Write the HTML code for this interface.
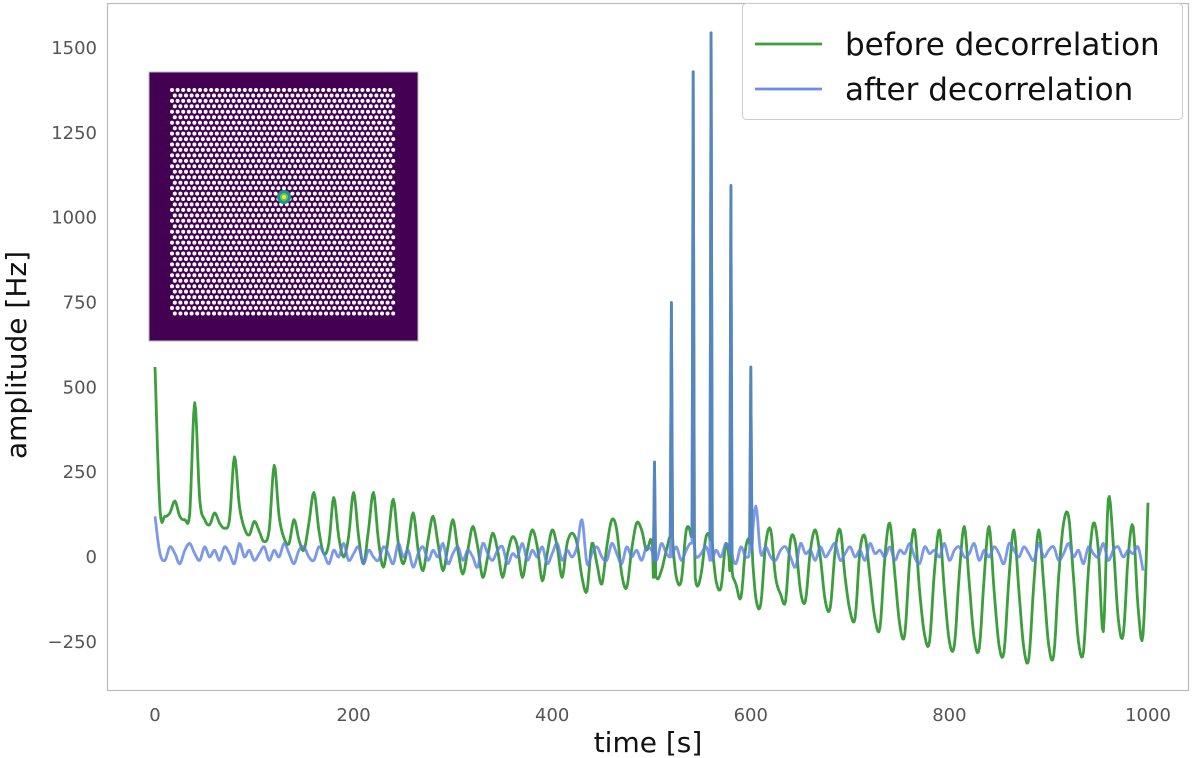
<!DOCTYPE html>
<html><head><meta charset="utf-8"><style>
body{margin:0;background:#fff;}
svg{display:block;font-family:"DejaVu Sans","Liberation Sans",sans-serif;}
</style></head><body>
<svg id="chart" width="1200" height="758"></svg>
<script>
const greenValues=[560,140,120,130,165,120,110,130,455,170,110,95,130,100,85,110,295,150,85,65,105,75,45,80,270,120,55,40,110,50,20,100,190,80,10,40,175,60,0,60,190,60,-20,80,190,50,-30,60,170,40,-20,40,130,20,-40,50,120,40,-40,30,110,20,-50,20,90,30,-60,0,70,20,-60,10,60,30,-60,20,80,30,-70,10,80,30,-60,40,70,40,-60,-100,40,-20,-80,30,110,80,-50,-90,20,100,80,20,50,-60,-40,20,60,-60,-70,80,60,-80,-50,60,50,-70,-90,40,-40,-80,-120,30,40,-120,-140,40,80,-60,-110,-130,50,40,-100,-130,20,80,0,-130,-150,20,80,-60,-160,-180,20,60,-60,-180,-210,0,100,-50,-200,-230,-10,80,-100,-230,-250,-40,80,-100,-250,-260,-50,90,-80,-240,-270,-60,90,-100,-260,-280,-60,80,-100,-270,-300,-80,80,-80,-260,-290,-60,100,120,-60,-250,-280,-40,100,20,-220,170,40,-180,-230,0,90,-150,-230,160];
const blueValues=[120,10,-10,30,10,-20,20,40,10,-10,30,0,20,-10,30,10,-20,40,0,20,-10,10,30,-10,20,0,40,10,-20,20,30,0,-10,30,10,-20,20,0,40,-10,10,30,-20,20,0,-10,30,10,-20,40,0,20,-30,10,30,-10,20,0,40,-20,10,30,-10,20,0,-30,40,10,-10,20,30,-20,10,0,40,-10,20,0,30,-20,10,40,-10,20,0,30,110,-20,10,30,0,-10,40,10,-20,30,0,20,-10,30,20,-10,40,10,0,30,-10,20,40,0,10,30,-10,20,0,40,10,-20,30,0,20,150,10,30,0,-10,20,30,0,-30,40,10,20,-10,30,0,20,40,-10,10,30,0,20,-10,40,10,20,0,30,-10,20,10,40,0,-20,30,10,20,0,40,-10,20,30,0,10,40,-10,20,0,30,10,-20,40,20,0,30,10,-10,40,0,20,30,-10,10,40,0,20,-20,30,10,0,40,-10,20,30,0,20,10,30,-40];
const spikeTimes=[503,520,542,560,580,600];
const spikeHeights=[280,750,1430,1545,1095,560];
const xTicks=[0,200,400,600,800,1000];
const yTicks=[-250,0,250,500,750,1000,1250,1500];
const NS='http://www.w3.org/2000/svg';
const svg=document.getElementById('chart');
const X=t=>155+t*0.993;
const Y=v=>557-v*0.3393;
function mk(tag,attrs,parent){const e=document.createElementNS(NS,tag);for(const k in attrs)e.setAttribute(k,attrs[k]);(parent||svg).appendChild(e);return e;}
const frame=mk('rect',{x:107.5,y:3.5,width:1081,height:687,fill:'none',stroke:'#bbbbbb','stroke-width':1.2});


xTicks.forEach(t=>{const e=mk('text',{x:X(t),y:721,'text-anchor':'middle','font-size':18,fill:'#555'});e.textContent=t;

});
yTicks.forEach(v=>{const e=mk('text',{x:97,y:Y(v)+6,'text-anchor':'end','font-size':18,fill:'#555'});e.textContent=v<0?'\u2212'+Math.abs(v):v;

});
const xl=mk('text',{x:648,y:752,'text-anchor':'middle','font-size':28,fill:'#111'});xl.textContent='time [s]';


const yl=mk('text',{x:0,y:0,'text-anchor':'middle','font-size':28,fill:'#111',transform:'translate(26,355) rotate(-90)'});yl.textContent='amplitude [Hz]';


// smooth segments between grid samples, sharp spikes inserted
function buildPath(vals){
  const base=vals.map((v,i)=>[i*5,v]);
  // catmull-rom densify
  let pts=[];
  for(let i=0;i<base.length-1;i++){
    const p0=base[Math.max(0,i-1)],p1=base[i],p2=base[i+1],p3=base[Math.min(base.length-1,i+2)];
    for(let s=0;s<5;s++){
      const u=s/5,u2=u*u,u3=u2*u;
      const f=(a,b,c,d)=>0.5*((2*b)+(-a+c)*u+(2*a-5*b+4*c-d)*u2+(-a+3*b-3*c+d)*u3);
      pts.push([f(p0[0],p1[0],p2[0],p3[0]),f(p0[1],p1[1],p2[1],p3[1])]);
    }
  }
  pts.push(base[base.length-1]);
  pts=pts.filter(p=>!spikeTimes.some(t=>Math.abs(p[0]-t)<1.2));
  spikeTimes.forEach((t,k)=>{
    const bv=vals[Math.round(t/5)];
    pts.push([t-1.2,bv],[t,spikeHeights[k]],[t+1.2,bv]);
  });
  pts.sort((a,b)=>a[0]-b[0]);
  return pts.map(p=>X(p[0]).toFixed(1)+','+Y(p[1]).toFixed(1)).join(' ');
}
const g=mk('polyline',{points:buildPath(greenValues),fill:'none',stroke:'#3c9e3c','stroke-width':2.8,'stroke-linejoin':'round'});


const b=mk('polyline',{points:buildPath(blueValues),fill:'none',stroke:'#5b7fe3','stroke-width':2.8,'stroke-opacity':0.8,'stroke-linejoin':'round'});


const inset=mk('g',{});


mk('rect',{x:149,y:72,width:269,height:269,fill:'#440154',stroke:'#bbb','stroke-width':1},inset);
let dots='';
for(let r=0;r<42;r++){for(let c=0;c<40;c++){
  const off=(r%2)*2.8;
  const cx=172+c*5.6+off, cy=90+r*5.45;
  if(cx>397)continue;
  dots+=`<circle cx="${cx.toFixed(1)}" cy="${cy.toFixed(1)}" r="2"/>`;
}}
const dg=mk('g',{fill:'#ffffff'},inset);dg.innerHTML=dots;
mk('circle',{cx:284,cy:197,r:7,fill:'#21918c'},inset);
mk('circle',{cx:284,cy:197,r:4,fill:'#5ec962'},inset);
mk('circle',{cx:284,cy:197,r:2,fill:'#fde725'},inset);
const lg=mk('g',{});


mk('rect',{x:742.5,y:3.5,width:440,height:116,rx:4,fill:'#fff',stroke:'#ccc','stroke-width':1},lg);
mk('line',{x1:755,y1:44,x2:822,y2:44,stroke:'#3c9e3c','stroke-width':2.8},lg);
mk('line',{x1:755,y1:89,x2:822,y2:89,stroke:'#6d8ee8','stroke-width':2.8},lg);
const t1=mk('text',{x:845,y:55,'font-size':31,fill:'#111'},lg);t1.textContent='before decorrelation';


const t2=mk('text',{x:845,y:100,'font-size':31,fill:'#111'},lg);t2.textContent='after decorrelation';


</script>
</body></html>
